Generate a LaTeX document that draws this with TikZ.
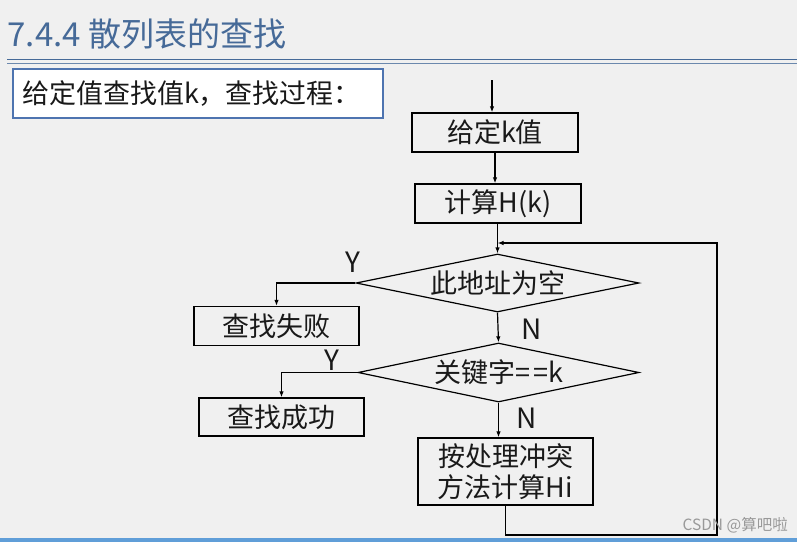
\documentclass[tikz,border=0pt]{standalone}
\usepackage{fontspec}
\usepackage{tikz}
\usetikzlibrary{shapes.geometric,arrows.meta}
\newfontfamily\cjk{Noto Sans CJK SC}

\definecolor{bggray}{RGB}{240,240,240}
\definecolor{titleblue}{RGB}{70,106,152}
\definecolor{boxblue}{RGB}{78,116,176}
\definecolor{stripblue}{RGB}{96,158,216}

\tikzset{
  every node/.style={font=\cjk\fontsize{27}{31}\selectfont, text=black!90},
  flowbox/.style={draw, line width=1.3pt, fill=bggray, inner sep=0pt},
  decide/.style={diamond, draw, line width=1.2pt, inner sep=0pt, aspect=4.8},
  flow/.style={line width=1.2pt, -{Latex[length=6pt,width=4.5pt]}},
  yn/.style={font=\cjk\fontsize{28}{32}\selectfont}
}

\begin{document}
\begin{tikzpicture}[x=1pt,y=-1pt]
 \fill[bggray] (0,0) rectangle (797,542);
 \useasboundingbox (0,0) rectangle (797,542);
 % title
 \node[anchor=west, text=titleblue, font=\cjk\fontsize{33}{37}\selectfont] (title) at (4,34) {7.4.4 散列表的查找};
 \draw[titleblue, line width=1.2pt] (7,59.5) -- (797,59.5);
 \draw[titleblue!80, line width=1.2pt] (7,63.5) -- (797,63.5);
 \fill[stripblue] (0,538) rectangle (797,542);

 % intro box
 \node[draw=boxblue, line width=1.8pt, fill=white, text width=352pt, align=left,
       inner xsep=9pt, minimum height=49pt, font=\cjk\fontsize{27}{31}\selectfont] (intro) at (198,93.5) {给定值查找值k，查找过程：};

 % main column
 \coordinate (start) at (492,80);
 \node[flowbox, minimum width=166pt, minimum height=39pt] (given) at (495,132.5) {给定k值};
 \node[flowbox, minimum width=166pt, minimum height=39pt] (hash) at (498,203.5) {计算H(k)};
 \node[decide, minimum width=283pt, minimum height=58pt] (empty) at (497.5,283) {此地址为空};
 \node[decide, minimum width=281pt, minimum height=59pt] (match) at (498.5,372.5) {关键字=\kern3pt=k};
 \node[flowbox, minimum width=175pt, minimum height=67pt, align=center] (rehash) at (505.5,471.5) {按处理冲突\\方法计算Hi};

 % left column
 \node[flowbox, minimum width=165pt, minimum height=39pt] (fail) at (276.5,326) {查找失败};
 \node[flowbox, minimum width=165pt, minimum height=38pt] (found) at (281.5,417) {查找成功};

 % arrows
 \draw[flow] (start) -- (start |- given.north);
 \draw[flow] (given.south) -- (given.south |- hash.north);
 \draw[flow] (hash.south -| empty.north) -- (empty.north);
 \draw[flow] (empty.west) -| (fail.north);
 \draw[flow] (empty.south) -- (match.north);
 \draw[flow] (match.west) -| (found.north);
 \draw[flow] (match.south) -- (match.south |- rehash.north);

 % loop back
 \coordinate (merge) at (497.5,243);
 \coordinate (corner) at (717,535);
 \draw[flow] (rehash.south) |- (corner) |- (merge);

 % Y / N
 \node[yn] (y1) at (352.7,262.7) {Y};
 \node[yn] (n1) at (531.7,329) {N};
 \node[yn] (y2) at (331.7,360) {Y};
 \node[yn] (n2) at (526.7,418) {N};

 % watermark
 \node[anchor=west, text=black!40, font=\cjk\fontsize{15.5}{18}\selectfont] (mark) at (679,525) {CSDN @算吧啦};
\end{tikzpicture}
\end{document}
